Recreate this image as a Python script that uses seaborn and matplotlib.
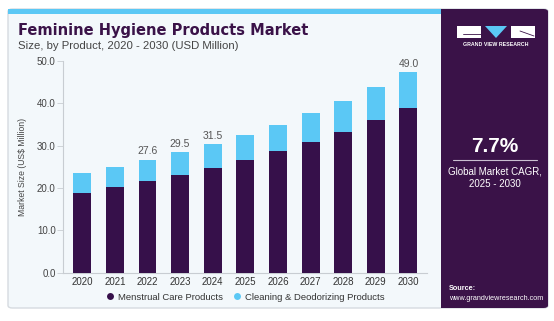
import matplotlib
matplotlib.use("Agg")
import matplotlib.pyplot as plt
import seaborn as sns
import pandas as pd
import numpy as np
from matplotlib.patches import FancyBboxPatch, Rectangle, Polygon
from matplotlib.lines import Line2D

years = ["2020", "2021", "2022", "2023", "2024", "2025", "2026", "2027", "2028", "2029", "2030"]
menstrual = [18.9, 20.2, 21.6, 23.0, 24.7, 26.6, 28.7, 30.8, 33.3, 36.0, 38.9]
cleaning = [4.5, 4.7, 5.0, 5.4, 5.6, 5.9, 6.2, 6.8, 7.2, 7.7, 8.4]
bar_labels = ["", "", "27.6", "29.5", "31.5", "", "", "", "", "", "49.0"]
series_names = ["Menstrual Care Products", "Cleaning & Deodorizing Products"]

DARK = "#36104a"
BLUE = "#5bc8f5"
BG = "#f3f8fb"
PANEL = "#3a1248"

W, H = 554, 321
sns.set_theme(style="white")
plt.rcParams["font.family"] = ["Liberation Sans", "DejaVu Sans"]

fig = plt.figure(figsize=(W / 100, H / 100), dpi=100)
fig.patch.set_facecolor("white")

def fx(x):
    return x / W

def fy(y):
    return 1 - y / H

# card
card = FancyBboxPatch((fx(8), fy(308)), fx(540), (299) / H,
                      boxstyle="round,pad=0,rounding_size=0.008",
                      transform=fig.transFigure, facecolor=BG,
                      edgecolor="#d6dbe0", linewidth=1.0, zorder=-10)
fig.patches.append(card)
fig.patches.append(Rectangle((fx(8), fy(14)), fx(433), 5 / H, transform=fig.transFigure,
                             facecolor=BLUE, edgecolor="none", zorder=-9))
panel = FancyBboxPatch((fx(441), fy(308)), fx(107), 299 / H,
                       boxstyle="round,pad=0,rounding_size=0.008",
                       transform=fig.transFigure, facecolor=PANEL,
                       edgecolor="none", zorder=-9)
fig.patches.append(panel)
fig.patches.append(Rectangle((fx(441), fy(308)), fx(20), 299 / H, transform=fig.transFigure,
                             facecolor=PANEL, edgecolor="none", zorder=-9))

# logo
fig.patches.append(Rectangle((fx(457), fy(38)), fx(24), 12 / H, transform=fig.transFigure,
                             facecolor="white", edgecolor="none", zorder=2))
fig.patches.append(Polygon([(fx(485), fy(26)), (fx(507), fy(26)), (fx(496), fy(38))],
                           closed=True, transform=fig.transFigure,
                           facecolor=BLUE, edgecolor="none", zorder=2))
fig.patches.append(Rectangle((fx(511), fy(38)), fx(24), 12 / H, transform=fig.transFigure,
                             facecolor="white", edgecolor="none", zorder=2))
fig.lines.append(Line2D([fx(463), fx(481)], [fy(34), fy(34)], transform=fig.transFigure,
                        color=PANEL, lw=0.6, zorder=3))
fig.lines.append(Line2D([fx(520), fx(534)], [fy(31), fy(36)], transform=fig.transFigure,
                        color=PANEL, lw=0.6, zorder=3))
fig.text(fx(496), fy(45), "GRAND VIEW RESEARCH", color="white", fontsize=3.8,
         fontweight="bold", ha="center", va="center", zorder=3)

fig.text(fx(495), fy(147), "7.7%", color="white", fontsize=15, fontweight="bold",
         ha="center", va="center", zorder=3)
fig.lines.append(Line2D([fx(453), fx(537)], [fy(160), fy(160)], transform=fig.transFigure,
                        color="#c9bfd0", lw=0.8, zorder=3))
fig.text(fx(495), fy(172), "Global Market CAGR,", color="white", fontsize=7,
         ha="center", va="center", zorder=3)
fig.text(fx(495), fy(184), "2025 - 2030", color="white", fontsize=7,
         ha="center", va="center", zorder=3)
fig.text(fx(449), fy(288), "Source:", color="white", fontsize=5.2, fontweight="bold",
         ha="left", va="center", zorder=3)
fig.text(fx(449), fy(298), "www.grandviewresearch.com", color="white", fontsize=5.2,
         ha="left", va="center", zorder=3)

# titles
fig.text(fx(18), fy(31), "Feminine Hygiene Products Market", color=PANEL, fontsize=10.5,
         fontweight="heavy", family=["DejaVu Sans"], ha="left", va="center", zorder=3)
fig.text(fx(18), fy(46), "Size, by Product, 2020 - 2030 (USD Million)", color="#444444",
         fontsize=8.2, ha="left", va="center", zorder=3)

# axes
ax = fig.add_axes([fx(62.7), fy(272.7), (426.7 - 62.7) / W, (272.7 - 60.7) / H])
ax.set_zorder(5)
ax.set_facecolor("none")
df = pd.DataFrame({"year": years, "menstrual": menstrual, "cleaning": cleaning})
df["total"] = df["menstrual"] + df["cleaning"]

sns.barplot(data=df, x="year", y="total", color=BLUE, width=0.55, saturation=1,
            ax=ax, edgecolor="none", zorder=2)
sns.barplot(data=df, x="year", y="menstrual", color=DARK, width=0.55, saturation=1,
            ax=ax, edgecolor="none", zorder=3)

for i, (t, lab) in enumerate(zip(df["total"], bar_labels)):
    if lab:
        ax.annotate(lab, (i, t), xytext=(0, 2.5), textcoords="offset points",
                    ha="center", va="bottom", fontsize=7.5, color="#555555")

ax.set_xlim(-0.6, 10.56)
ax.set_ylim(0, 50)
ax.set_yticks([0, 10, 20, 30, 40, 50])
ax.set_yticklabels([f"{v:.1f}" for v in [0, 10, 20, 30, 40, 50]])
ax.set_xlabel("")
ax.set_ylabel("Market Size (US$ Million)", fontsize=6.2, color="#444444", labelpad=7)
for s in ["top", "right"]:
    ax.spines[s].set_visible(False)
for s in ["left", "bottom"]:
    ax.spines[s].set_color("#c8cdd2")
    ax.spines[s].set_linewidth(0.8)
ax.tick_params(axis="y", which="both", left=True, length=4, width=0.6, color="#c8cdd2",
               labelsize=7, labelcolor="#444444", pad=1)
ax.tick_params(axis="x", bottom=False, length=0, labelsize=7, labelcolor="#333333", pad=3)

# legend
handles = [Line2D([0], [0], marker="o", color="none", markerfacecolor=DARK,
                  markeredgecolor="none", markersize=5),
           Line2D([0], [0], marker="o", color="none", markerfacecolor=BLUE,
                  markeredgecolor="none", markersize=5)]
fig.legend(handles, series_names, loc="center", bbox_to_anchor=(fx(245), fy(297)),
           ncol=2, frameon=False, fontsize=6.8, handletextpad=0.3, columnspacing=1.0,
           handlelength=1.0, labelcolor="#333333")

fig.savefig("out.png", dpi=100, facecolor="white")
